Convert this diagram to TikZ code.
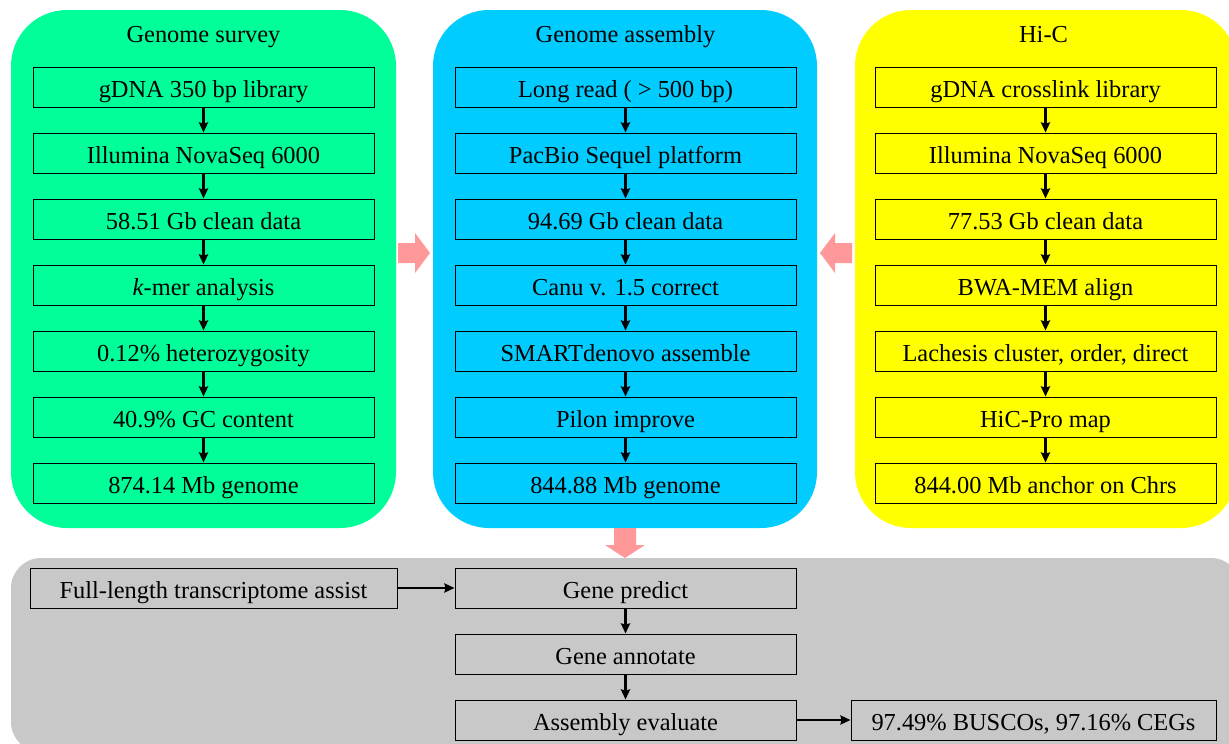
\documentclass[tikz,border=0pt]{standalone}
\usepackage{fontspec}
\setmainfont{Liberation Serif}
\usetikzlibrary{arrows.meta}
\definecolor{surveyc}{RGB}{0,255,153}
\definecolor{assemc}{RGB}{0,204,255}
\definecolor{hicc}{RGB}{255,255,0}
\definecolor{annotc}{RGB}{200,200,200}
\definecolor{flowc}{RGB}{255,153,153}
\begin{document}
\begin{tikzpicture}[x=1pt,y=-1pt,
  stepbox/.style={draw=black, line width=1pt, minimum width=341pt, minimum height=40pt,
    inner sep=0pt, text height=22pt, text depth=2pt, font=\fontsize{24.4}{28}\selectfont},
  title/.style={inner sep=0pt, text height=22pt, text depth=2pt, font=\fontsize{24.4}{28}\selectfont},
  link/.style={line width=2.6pt, -{Stealth[length=10pt,width=9pt,inset=1pt]}}]

\useasboundingbox (0,0) rectangle (1229,744);
\clip (0,0) rectangle (1229,744);

% coloured panels
\fill[surveyc, rounded corners=56pt] (11,10) rectangle (396,528);
\fill[assemc, rounded corners=56pt] (433,10) rectangle (817,528);
\fill[hicc, rounded corners=56pt] (855,10) rectangle (1237,528);
\fill[annotc, rounded corners=30pt] (11,558) rectangle (1241,752);

% panel titles
\node[title] (ts) at (203.5,32) {Genome survey};
\node[title] (ta) at (625.5,32) {Genome assembly};
\node[title] (th) at (1043.5,32) {Hi-C};

% genome survey column
\foreach \t [count=\i] in {gDNA 350 bp library, Illumina NovaSeq 6000, 58.51 Gb clean data,
    \textit{k}-mer analysis, 0.12\% heterozygosity, 40.9\% GC content, 874.14 Mb genome}
  \node[stepbox] (s\i) at (203.5,{21+66*\i}) {\t};

% genome assembly column
\foreach \t [count=\i] in {Long read ( > 500 bp), PacBio Sequel platform, 94.69 Gb clean data,
    Canu v. 1.5 correct, SMARTdenovo assemble, Pilon improve, 844.88 Mb genome}
  \node[stepbox] (a\i) at (625.5,{21+66*\i}) {\t};

% Hi-C column
\foreach \t [count=\i] in {gDNA crosslink library, Illumina NovaSeq 6000, 77.53 Gb clean data,
    BWA-MEM align, {Lachesis cluster, order, direct}, HiC-Pro map, 844.00 Mb anchor on Chrs}
  \node[stepbox] (h\i) at (1045.5,{21+66*\i}) {\t};

\foreach \i/\j in {1/2,2/3,3/4,4/5,5/6,6/7} {
  \draw[link] (s\i.south) -- (s\j.north);
  \draw[link] (a\i.south) -- (a\j.north);
  \draw[link] (h\i.south) -- (h\j.north);
}

% annotation panel
\node[stepbox] (g1) at (625.5,588) {Gene predict};
\node[stepbox] (g2) at (625.5,654) {Gene annotate};
\node[stepbox] (g3) at (625.5,720) {Assembly evaluate};
\node[stepbox, minimum width=367pt] (fl) at (213.5,588) {Full-length transcriptome assist};
\node[stepbox, minimum width=365pt] (res) at (1033.5,720) {97.49\% BUSCOs, 97.16\% CEGs};

\draw[link] (g1.south) -- (g2.north);
\draw[link] (g2.south) -- (g3.north);
\draw[link] (fl.east) -- (g1.west);
\draw[link] (g3.east) -- (res.west);

% block arrows between panels
\fill[flowc] (398,243) -- (415,243) -- (415,233) -- (430,253) -- (415,273) -- (415,263) -- (398,263) -- cycle;
\fill[flowc] (852,243) -- (835,243) -- (835,233) -- (820,253) -- (835,273) -- (835,263) -- (852,263) -- cycle;
\fill[flowc] (614,528) -- (614,545) -- (605,545) -- (625,558) -- (645,545) -- (636,545) -- (636,528) -- cycle;
\end{tikzpicture}
\end{document}
